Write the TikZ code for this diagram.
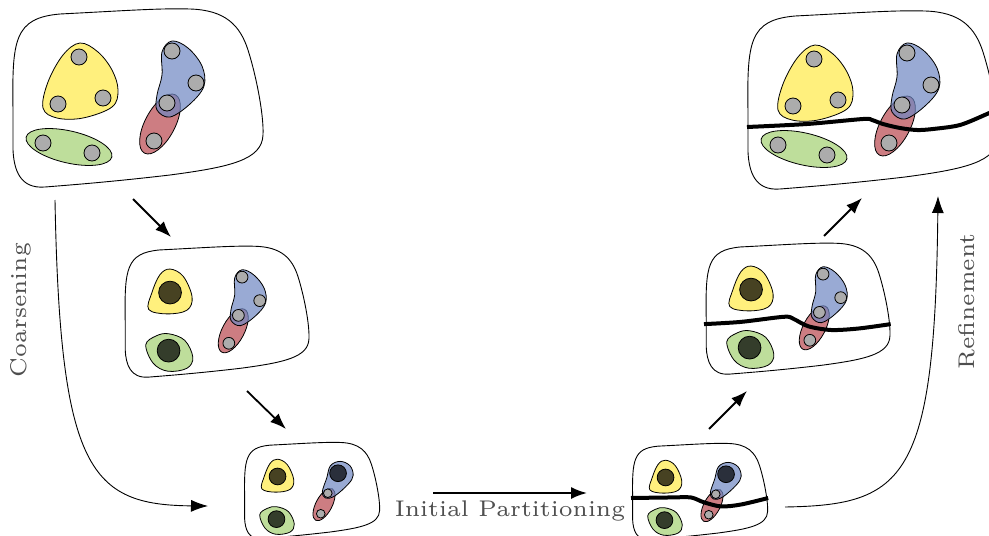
\documentclass[tikz,border=0pt]{standalone}
\usepackage{fontspec}
\usetikzlibrary{arrows.meta}
\definecolor{cyel}{RGB}{255,240,125}
\definecolor{cgrn}{RGB}{190,222,155}
\definecolor{cblu}{RGB}{110,135,195}
\definecolor{cred}{RGB}{185,70,78}
\definecolor{cvtx}{RGB}{172,172,172}
\definecolor{ctxt}{RGB}{78,78,78}
\tikzset{
  outerblob/.style={draw=black, line width=0.9pt, fill=white},
  edgeblob/.style={draw=black, line width=0.8pt, fill=#1},
  tedge/.style={draw=black, line width=0.8pt, fill=#1, fill opacity=0.7},
  vtx/.style={draw=black, line width=0.8pt, fill=cvtx},
  bigvtx/.style={draw=black, line width=0.8pt, fill=black, fill opacity=0.72},
  cutline/.style={line width=4pt},
  flowarrow/.style={line width=1.8pt, -{Latex[length=16pt,width=12pt]}},
  sidearrow/.style={line width=0.9pt, -{Latex[length=17pt,width=12pt]}},
  lbl/.style={text=ctxt, font=\fontsize{6}{7}\selectfont, inner sep=0pt, scale=3.78},
}
% ---- hyperedge shapes, in the coordinates of the finest level ----
\newcommand\HgOuter{\path[outerblob] (13,110) .. controls (12,40) and (14,18) .. (60,14)
  .. controls (120,11) and (160,8) .. (190,9)
  .. controls (225,10) and (240,25) .. (248,50)
  .. controls (256,75) and (264,115) .. (263,135)
  .. controls (262,160) and (230,167) .. (170,175)
  .. controls (110,182) and (70,185) .. (45,187)
  .. controls (20,189) and (14,170) .. (13,150) -- cycle;}
\newcommand\HgYelA{\path[edgeblob=cyel] plot[smooth cycle,tension=0.6] coordinates {(80,43) (98,52) (112,70) (118,90) (112,107) (83,118) (57,118) (43,108) (48,82) (63,55)};}
\newcommand\HgGrnA{\path[edgeblob=cgrn] (69,147) circle [x radius=44, y radius=16, rotate=-13];}
\newcommand\HgRed{\path[tedge=cred] (160,124) circle [x radius=33, y radius=15, rotate=62];}
\newcommand\HgBluA{\path[tedge=cblu] plot[smooth cycle,tension=0.6] coordinates {(172,41) (188,48) (202,66) (204,86) (190,104) (170,117) (157,110) (157,95) (162,75) (162,52)};}
\newcommand\HgYelB{\path[edgeblob=cyel] plot[smooth cycle,tension=0.6] coordinates {(74,40) (92,50) (104,78) (97,96) (70,101) (45,95) (49,73) (60,48)};}
\newcommand\HgGrnB{\path[edgeblob=cgrn] plot[smooth cycle,tension=0.6] coordinates {(41,143) (55,131) (72,128) (94,137) (105,160) (97,175) (71,179) (51,168)};}
\newcommand\HgBluC{\path[tedge=cblu] plot[smooth cycle,tension=0.6] coordinates {(190,44) (208,52) (214,70) (205,86) (180,108) (163,112) (157,100) (165,75) (172,52)};}
% ---- levels ----
\newcommand\LevelFine{\HgOuter\HgYelA\HgGrnA\HgRed\HgBluA}
\newcommand\VtxFine{%
  \path[vtx] (79,57) circle [radius=8] (58,104) circle [radius=8] (103,98) circle [radius=8]
    (43,143) circle [radius=8] (92,153) circle [radius=8]
    (172,51) circle [radius=8] (196,83) circle [radius=8] (167,103) circle [radius=8]
    (154,141) circle [radius=8];}
\newcommand\LevelMid{\HgOuter\HgYelB\HgGrnB\HgRed\HgBluA}
\newcommand\VtxMid{%
  \path[bigvtx] (74,72) circle [radius=15.5] (72,151) circle [radius=15.5];
  \path[vtx] (172,51) circle [radius=8] (196,83) circle [radius=8] (167,103) circle [radius=8]
    (154,141) circle [radius=8];}
\newcommand\LevelCoarse{\HgOuter\HgYelB\HgGrnB\HgRed\HgBluC}
\newcommand\VtxCoarse{%
  \path[bigvtx] (74,72) circle [radius=15.5] (72,151) circle [radius=15.5] (186,66) circle [radius=15.5];
  \path[vtx] (167,103) circle [radius=8] (154,141) circle [radius=8];}
\begin{document}
\begin{tikzpicture}[x=1pt,y=-1pt]
\useasboundingbox (0,0) rectangle (989,536);
% finest level (coarsening side)
\begin{scope}
  \LevelFine \VtxFine
\end{scope}
\begin{scope}[shift={(115.65,239.65)}, scale=0.735]
  \LevelMid \VtxMid
\end{scope}
\begin{scope}[shift={(237.6,437.6)}, scale=0.54]
  \LevelCoarse \VtxCoarse
\end{scope}
% refinement side
\begin{scope}[shift={(625.6,438.6)}, scale=0.54]
  \LevelCoarse
  \draw[cutline] plot[smooth, tension=0.5] coordinates {(10,110) (84,109) (121,109) (145,118) (177,125.6) (214,122) (264,110)};
  \VtxCoarse
\end{scope}
\begin{scope}[shift={(696.65,236.65)}, scale=0.735]
  \LevelMid
  \draw[cutline] plot[smooth, tension=0.5] coordinates {(10,119) (60,116) (119,109) (132,112) (152,122) (183,127) (220,125) (264,119)};
  \VtxMid
\end{scope}
\begin{scope}[shift={(735,2)}]
  \LevelFine
  \draw[cutline] plot[smooth, tension=0.5] coordinates {(12,125) (72,122) (128,117) (137,118) (148,122) (165,126) (182,128) (198,127) (225,123) (252,112) (265,106)};
  \VtxFine
\end{scope}
% connectors
\coordinate (a1s) at (133,199); \coordinate (a1e) at (171,237);
\coordinate (a2s) at (247,391); \coordinate (a2e) at (286,429);
\coordinate (a3s) at (433,493); \coordinate (a3e) at (587,493);
\coordinate (a4s) at (709,429); \coordinate (a4e) at (747,391);
\coordinate (a5s) at (824,236); \coordinate (a5e) at (862,198);
\coordinate (cs) at (55,200); \coordinate (ce) at (208,506);
\coordinate (rs) at (785,507); \coordinate (re) at (938,196);
\draw[flowarrow] (a1s) -- (a1e);
\draw[flowarrow] (a2s) -- (a2e);
\draw[flowarrow] (a3s) -- (a3e);
\draw[flowarrow] (a4s) -- (a4e);
\draw[flowarrow] (a5s) -- (a5e);
\draw[sidearrow] (cs) .. controls (60,470) and (90,505) .. (ce);
\draw[sidearrow] (rs) .. controls (905,505) and (935,480) .. (re);
% labels
\node[lbl, rotate=90, anchor=base] (coarsen) at (26,310) {Coarsening};
\node[lbl, rotate=90, anchor=base] (refine) at (974,301.5) {Refinement};
\node[lbl, anchor=base] (initp) at (510,516.5) {Initial Partitioning};
\end{tikzpicture}
\end{document}
